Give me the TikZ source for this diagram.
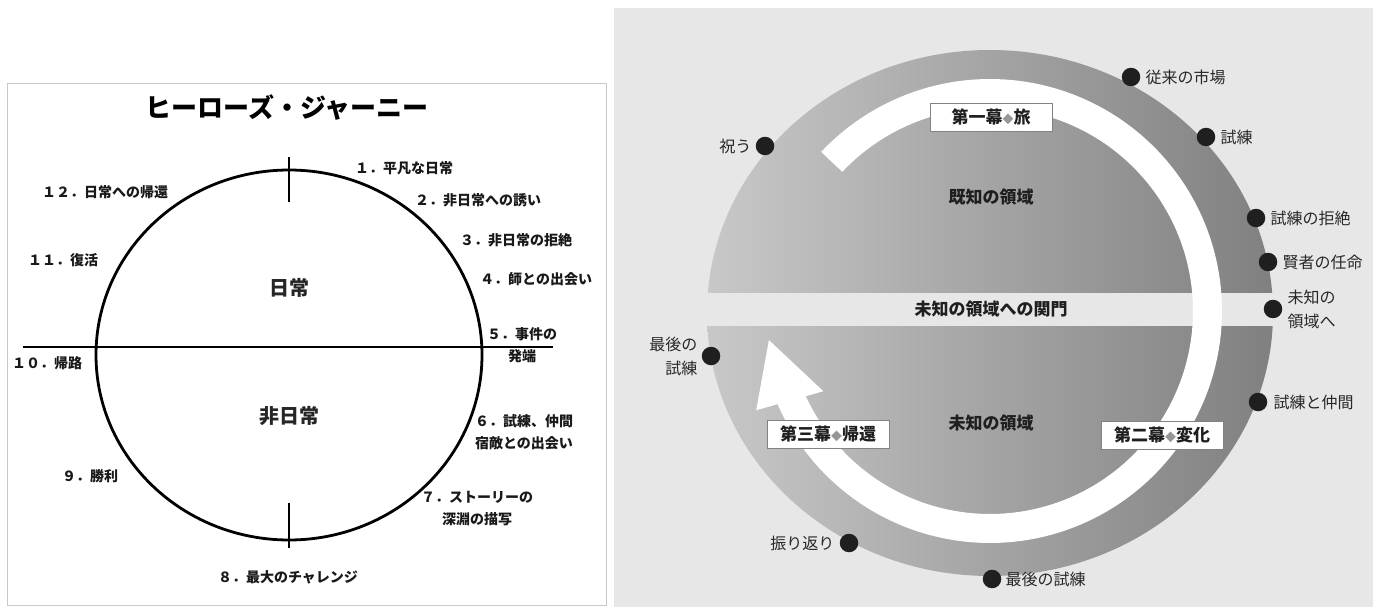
\documentclass[tikz,border=0pt]{standalone}
\usepackage{fontspec}
\setmainfont{Noto Sans CJK JP}
\definecolor{panelbg}{RGB}{231,231,231}
\definecolor{diskL}{RGB}{200,200,200}
\definecolor{diskR}{RGB}{128,128,128}
\definecolor{lbltxt}{RGB}{40,40,40}
\definecolor{diamc}{RGB}{150,150,150}
\definecolor{framec}{RGB}{200,200,200}
\definecolor{boxline}{RGB}{130,130,130}
\tikzset{
  ttlstyle/.style={font=\fontsize{26}{30}\selectfont\bfseries, inner sep=0pt},
  lab/.style={font=\fontsize{14}{22}\selectfont\bfseries, inner sep=0pt, text=black!90},
  zone/.style={font=\fontsize{20}{24}\selectfont\bfseries, inner sep=0pt, text=black!85},
  ringline/.style={line width=2.8pt, black},
  dotnode/.style={circle, fill=black!88, minimum size=18.5pt, inner sep=0pt},
  rlab/.style={font=\fontsize{16}{24}\selectfont, inner sep=0pt, text=lbltxt},
  region/.style={font=\fontsize{17}{20}\selectfont\bfseries, inner sep=0pt, text=black!88},
  actbox/.style={draw=boxline, line width=0.8pt, fill=white, minimum width=122pt, minimum height=28pt, inner sep=0pt, font=\fontsize{17}{20}\selectfont\bfseries, text=black!88}
}
\newcommand{\dia}{{\fontsize{11}{11}\selectfont\color{diamc}◆}}
\begin{document}
\begin{tikzpicture}[x=1pt,y=-1pt]
\useasboundingbox (0,0) rectangle (1373,607);
\fill[white] (0,0) rectangle (1373,607);

% ---------------- left panel ----------------
\draw[framec, line width=1pt] (7,84) rectangle (606,605);
\node[ttlstyle] (ttl) at (287,108) {ヒーローズ・ジャーニー};
\coordinate (cc) at (289,355);
\draw[ringline] (cc) ellipse [x radius=193pt, y radius=185pt];
\coordinate (hl) at (23,347);
\coordinate (hr) at (553,347);
\draw[ringline] (hl) -- (hr);
\coordinate (tt1) at (289,157);
\coordinate (tt2) at (289,202);
\draw[ringline] (tt1) -- (tt2);
\coordinate (bt1) at (289,503);
\coordinate (bt2) at (289,548);
\draw[ringline] (bt1) -- (bt2);

\node[zone] (nichijo) at (289,288) {日常};
\node[zone] (hinichijo) at (289,416) {非日常};

\node[lab, anchor=west] (s1) at (355,168) {１．平凡な日常};
\node[lab, anchor=west] (s2) at (415,200) {２．非日常への誘い};
\node[lab, anchor=west] (s3) at (460,240) {３．非日常の拒絶};
\node[lab, anchor=west] (s4) at (480,279) {４．師との出会い};
\node[lab, align=center] (s5) at (522,345) {５．事件の\\発端};
\node[lab, align=center] (s6) at (524,432) {６．試練、仲間\\宿敵との出会い};
\node[lab, align=center] (s7) at (477,509) {７．ストーリーの\\深淵の描写};
\node[lab] (s8) at (288,577) {８．最大のチャレンジ};
\node[lab] (s9) at (90,476) {９．勝利};
\node[lab, anchor=west] (s10) at (12,363) {１０．帰路};
\node[lab, anchor=west] (s11) at (28,260) {１１．復活};
\node[lab, anchor=west] (s12) at (42,192) {１２．日常への帰還};

% ---------------- right panel ----------------
\fill[panelbg] (614,8) rectangle (1373,607);
\shade[left color=diskL, right color=diskR] (990,313) ellipse [x radius=283pt, y radius=263pt];
\fill[panelbg] (700,293) rectangle (1282,326);

% white arrow (clockwise on screen as angle grows, since y points down)
\fill[white] plot[domain=-136.7:158, samples=160] ({990+232*cos(\x)},{311+232*sin(\x)})
  -- plot[domain=158:-136.7, samples=160] ({990+203*cos(\x)},{311+203*sin(\x)}) -- cycle;
\coordinate (ahL) at ({990+254*cos(157)},{311+254*sin(157)});
\coordinate (ahT) at ({990+223*cos(172.5)},{311+223*sin(172.5)});
\coordinate (ahR) at ({990+185*cos(154.3)},{311+185*sin(154.3)});
\fill[white] (ahL) -- (ahT) -- (ahR) -- cycle;

\node[region] (known) at (991,197) {既知の領域};
\node[region] (gate) at (991,309) {未知の領域への関門};
\node[region] (unknown) at (991,423) {未知の領域};

\node[actbox] (act1) at (991,117) {第一幕\dia 旅};
\node[actbox] (act2) at (1162,435) {第二幕\dia 変化};
\node[actbox] (act3) at (828,434) {第三幕\dia 帰還};

\node[dotnode] (p1) at (1131,77) {};
\node[rlab, anchor=west] (l1) at ([xshift=5pt]p1.east) {従来の市場};
\node[dotnode] (p2) at (1206,137) {};
\node[rlab, anchor=west] (l2) at ([xshift=5pt]p2.east) {試練};
\node[dotnode] (p3) at (1256,218) {};
\node[rlab, anchor=west] (l3) at ([xshift=5pt]p3.east) {試練の拒絶};
\node[dotnode] (p4) at (1268,262) {};
\node[rlab, anchor=west] (l4) at ([xshift=5pt]p4.east) {賢者の任命};
\node[dotnode] (p5) at (1273,309) {};
\node[rlab, anchor=west, align=left] (l5) at ([xshift=5pt]p5.east) {未知の\\領域へ};
\node[dotnode] (p6) at (1258,402) {};
\node[rlab, anchor=west] (l6) at ([xshift=6pt]p6.east) {試練と仲間};
\node[dotnode] (p7) at (992,579) {};
\node[rlab, anchor=west] (l7) at ([xshift=4pt]p7.east) {最後の試練};
\node[dotnode] (p8) at (849,543) {};
\node[rlab, anchor=east] (l8) at ([xshift=-5pt]p8.west) {振り返り};
\node[dotnode] (p9) at (711,356) {};
\node[rlab, anchor=east, align=right] (l9) at ([xshift=-4pt]p9.west) {最後の\\試練};
\node[dotnode] (p10) at (765,146) {};
\node[rlab, anchor=east] (l10) at ([xshift=-4pt]p10.west) {祝う};
\end{tikzpicture}
\end{document}
